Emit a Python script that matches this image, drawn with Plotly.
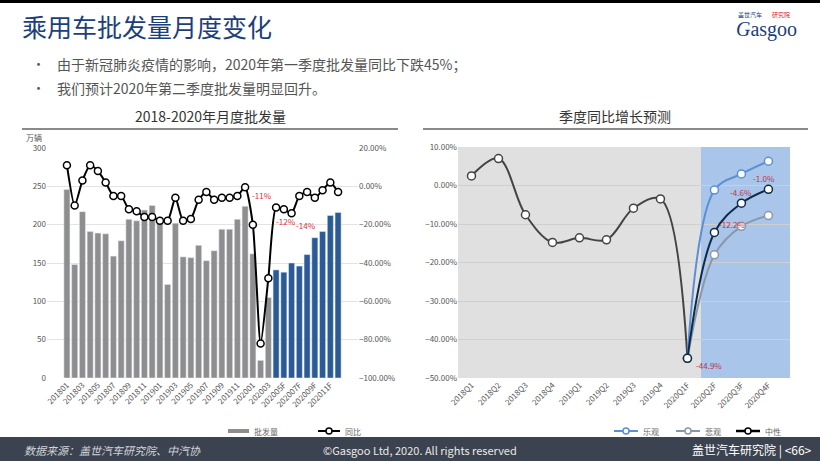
import plotly.graph_objects as go

months = [f"{y}{m:02d}" for y in (2018, 2019) for m in range(1, 13)] + \
         [f"2020{m:02d}" for m in range(1, 4)] + [f"2020{m:02d}F" for m in range(4, 13)]
volume = [246, 148, 217, 191, 189, 188, 159, 179, 207, 205, 219, 225,
          205, 122, 202, 158, 157, 173, 153, 166, 194, 194, 207, 224,
          162, 23, 105, 141, 138, 150, 146, 161, 183, 191, 212, 216]
yoy = [11, -10, 3, 11, 8, 2, -5, -5, -12, -13, -16, -16,
       -18, -18, -6, -18, -17, -7, -3, -7, -6, -6, -5, -0.5,
       -20, -82, -48, -11, -12, -14, -5, -3, -6, -2, 2, -3]
quarters = ["2018Q1", "2018Q2", "2018Q3", "2018Q4", "2019Q1", "2019Q2", "2019Q3", "2019Q4",
            "2020Q1F", "2020Q2F", "2020Q3F", "2020Q4F"]
hist = [2.5, 7.0, -7.6, -14.8, -13.6, -14.1, -5.9, -3.5, -44.9]
fq = ["2020Q1F", "2020Q2F", "2020Q3F", "2020Q4F"]
optimistic = [-44.9, -1.2, 3.0, 6.3]
pessimistic = [-44.9, -18.0, -10.6, -7.8]
neutral = [-44.9, -12.2, -4.6, -1.0]

W, H = 820, 461
def px(x): return x / W
def py(y): return 1 - y / H

fig = go.Figure()
bar_colors = ["#8e8e8e"] * 27 + ["#2b5a96"] * 9
fig.add_trace(go.Bar(x=months, y=volume, marker_color=bar_colors, width=0.78,
                     xaxis="x", yaxis="y", showlegend=False))
fig.add_trace(go.Scatter(x=months, y=yoy, mode="lines+markers", xaxis="x", yaxis="y2",
                         line=dict(color="black", width=2, shape="spline", smoothing=0.6),
                         marker=dict(size=7, color="white", line=dict(color="black", width=1.5)),
                         showlegend=False))
fig.add_trace(go.Scatter(x=quarters[:9], y=hist, mode="lines+markers", xaxis="x3", yaxis="y3",
                         line=dict(color="#444444", width=2, shape="spline"),
                         marker=dict(size=8, color="white", line=dict(color="#444444", width=1.5)),
                         showlegend=False))
for vals, col in [(optimistic, "#5b8fd6"), (pessimistic, "#8a97a8"), (neutral, "#0f2a4a")]:
    fig.add_trace(go.Scatter(x=fq, y=vals, mode="lines+markers", xaxis="x3", yaxis="y3",
                             line=dict(color=col, width=2, shape="spline"),
                             marker=dict(size=8, color="white", line=dict(color=col, width=1.5)),
                             showlegend=False))

tf = dict(size=8, color="#555", family="Noto Sans CJK SC")
tickm = months[0::2]
fig.update_layout(
    width=W, height=H, margin=dict(l=0, r=0, t=0, b=0, autoexpand=False), showlegend=False,
    paper_bgcolor="white", plot_bgcolor="rgba(0,0,0,0)",
    font=dict(family="Noto Sans CJK SC"),
    xaxis=dict(domain=[px(47), px(358)], anchor="y", tickvals=tickm, ticktext=tickm,
               tickangle=-45, tickfont=tf, showgrid=False, showline=False, ticks=""),
    yaxis=dict(domain=[py(378), py(148)], range=[0, 300], dtick=50, tickfont=tf,
               gridcolor="#e3e3e3", zeroline=False),
    yaxis2=dict(overlaying="y", side="right", range=[-100, 20], dtick=20, tickformat=".2f",
                ticksuffix="%", tickfont=tf, showgrid=False, zeroline=False, anchor="x"),
    xaxis3=dict(domain=[px(458), px(790)], anchor="y3", categoryorder="array",
                categoryarray=quarters, range=[-0.5, 11.8], tickangle=-45, tickfont=tf,
                showgrid=False, ticks=""),
    yaxis3=dict(domain=[py(378), py(147)], anchor="x3", range=[-50, 10], dtick=10,
                tickformat=".2f", ticksuffix="%", tickfont=tf, gridcolor="#cfcfcf",
                zeroline=False, layer="above traces"),
)

shapes = [
    dict(type="rect", xref="x3", yref="y3", x0=-0.5, x1=8.5, y0=-50, y1=10,
         fillcolor="#e0e0e0", line_width=0, layer="below"),
    dict(type="rect", xref="x3", yref="y3", x0=8.5, x1=11.8, y0=-50, y1=10,
         fillcolor="#a9c6ea", line_width=0, layer="below"),
    dict(type="line", xref="paper", yref="paper", x0=px(22), x1=px(398), y0=py(129), y1=py(129),
         line=dict(color="#8a8a8a", width=2)),
    dict(type="line", xref="paper", yref="paper", x0=px(423), x1=px(808), y0=py(129), y1=py(129),
         line=dict(color="#8a8a8a", width=2)),
    dict(type="rect", xref="paper", yref="paper", x0=0, x1=1, y0=py(461), y1=py(437),
         fillcolor="#3c4350", line_width=0),
    dict(type="rect", xref="paper", yref="paper", x0=0, x1=1, y0=py(3), y1=1,
         fillcolor="black", line_width=0),
    dict(type="rect", xref="paper", yref="paper", x0=px(228), x1=px(249), y0=py(433), y1=py(429),
         fillcolor="#8e8e8e", line_width=0),
    dict(type="line", xref="paper", yref="paper", x0=px(318), x1=px(340), y0=py(431), y1=py(431),
         line=dict(color="black", width=2)),
    dict(type="line", xref="paper", yref="paper", x0=px(614), x1=px(638), y0=py(431), y1=py(431),
         line=dict(color="#5b8fd6", width=2)),
    dict(type="line", xref="paper", yref="paper", x0=px(676), x1=px(700), y0=py(431), y1=py(431),
         line=dict(color="#8a97a8", width=2)),
    dict(type="line", xref="paper", yref="paper", x0=px(736), x1=px(760), y0=py(431), y1=py(431),
         line=dict(color="black", width=2.5)),
]
for cx, col in [(329, "black"), (626, "#5b8fd6"), (688, "#8a97a8"), (748, "black")]:
    shapes.append(dict(type="circle", xref="paper", yref="paper", x0=px(cx - 3), x1=px(cx + 3),
                       y0=py(434), y1=py(428), fillcolor="white", line=dict(color=col, width=1.5)))
fig.update_layout(shapes=shapes)

def t(x, y, s, size=10, color="#333", xa="left", **kw):
    fig.add_annotation(xref="paper", yref="paper", x=px(x), y=py(y), text=s, showarrow=False,
                       xanchor=xa, yanchor="middle", font=dict(size=size, color=color,
                       family=kw.pop("family", "Noto Sans CJK SC")), **kw)

t(20, 26, "乘用车批发量月度变化", 25, "#1c3f7a")
t(30, 64, "•", 13, "#555")
t(55, 64, "由于新冠肺炎疫情的影响，2020年第一季度批发量同比下跌45%；", 14, "#555")
t(30, 88, "•", 13, "#555")
t(55, 88, "我们预计2020年第二季度批发量明显回升。", 14, "#555")
t(210, 116, "2018-2020年月度批发量", 14, "#333", "center")
t(615, 116, "季度同比增长预测", 14, "#333", "center")
t(24, 137, "万辆", 8, "#555")
t(736, 15, "盖世汽车", 6, "#1c3f7a")
t(770, 15, "研究院", 6, "#d9262c")
t(766, 30, "<i>G</i>asgoo", 20, "#1c3f7a", "center", family="Liberation Serif")
t(252, 431, "批发量", 8, "#666")
t(343, 431, "同比", 8, "#666")
t(641, 431, "乐观", 8, "#666")
t(703, 431, "悲观", 8, "#666")
t(763, 431, "中性", 8, "#666")
t(22, 450, "<i>数据来源：盖世汽车研究院、中汽协</i>", 11, "#d0d4da")
t(420, 450, "©Gasgoo Ltd, 2020. All rights reserved", 11, "#e8e8e8", "center")
t(814, 450, "盖世汽车研究院 | <66>", 12, "#ffffff", "right")

red = "#e0303a"
for xi, s, ax, ay in [(27, "-11%", -14, 12), (28, "-12%", 2, -12), (29, "-14%", 14, -12)]:
    fig.add_annotation(x=months[xi], y=yoy[xi], xref="x", yref="y2", text=s, showarrow=False,
                       xshift=ax, yshift=ay, font=dict(size=8, color=red))
for xq, yv, s, xs, ys in [("2020Q1F", -44.9, "-44.9%", 22, -7), ("2020Q2F", -12.2, "-12.2%", 18, 8),
                          ("2020Q3F", -4.6, "-4.6%", 0, 11), ("2020Q4F", -1.0, "-1.0%", -4, 11)]:
    fig.add_annotation(x=xq, y=yv, xref="x3", yref="y3", text=s, showarrow=False,
                       xshift=xs, yshift=ys, font=dict(size=8, color="#c0304a"))

fig.write_html("out.html", config={"displayModeBar": False},
               post_script="document.body.style.margin='0';document.body.style.padding='0';"
                           "document.body.style.overflow='hidden';")
